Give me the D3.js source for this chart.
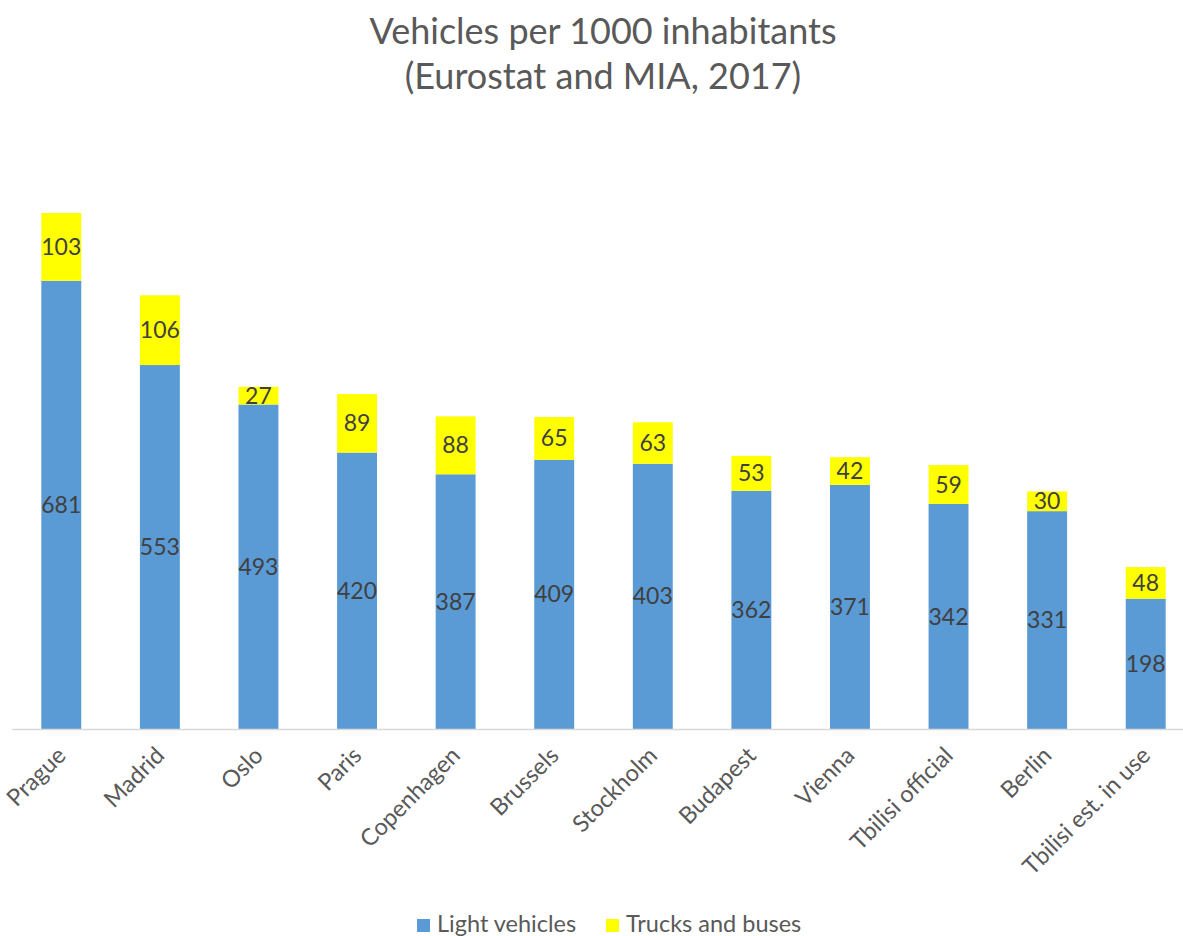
<!DOCTYPE html>
<html>
<head>
<meta charset="utf-8">
<script src="https://cdn.jsdelivr.net/npm/d3@7"></script>
<style>
  html, body { margin: 0; padding: 0; background: #fff; }
  svg { display: block; font-family: Lato, "Open Sans", sans-serif; }
</style>
</head>
<body>
<svg id="chart" width="1183" height="936"></svg>
<script>
// Vehicles per 1000 inhabitants, split into light vehicles and trucks/buses
const cities = ["Prague", "Madrid", "Oslo", "Paris", "Copenhagen", "Brussels",
  "Stockholm", "Budapest", "Vienna", "Tbilisi official", "Berlin", "Tbilisi est. in use"];
const lightVehicles = [681, 553, 493, 420, 387, 409, 403, 362, 371, 342, 331, 198];
const trucksBuses = [103, 106, 27, 89, 88, 65, 63, 53, 42, 59, 30, 48];
const seriesNames = ["Light vehicles", "Trucks and buses"];
const seriesColors = ["#5b9bd5", "#ffff00"];
const titleLines = ["Vehicles per 1000 inhabitants", "(Eurostat and MIA, 2017)"];

const W = 1183, H = 936;
const svg = d3.select("#chart");

const rows = cities.map((c, i) => ({ city: c, light: lightVehicles[i], trucks: trucksBuses[i] }));
const stack = d3.stack().keys(["light", "trucks"])(rows);

const baseY = 729;
const x = d3.scaleBand().domain(cities).range([12, 1195]).paddingInner(0.595).paddingOuter(0.2975);
const y = d3.scaleLinear().domain([0, 784]).range([baseY, 213]);

// Title
svg.append("g").selectAll("text").data(titleLines).join("text")
  .attr("x", 603).attr("y", (d, i) => 44 + i * 45)
  .attr("text-anchor", "middle")
  .attr("font-size", 36).attr("fill", "#595959")
  .text(d => d);

// Stacked bars
const layers = svg.append("g").selectAll("g").data(stack).join("g")
  .attr("fill", (d, i) => seriesColors[i]);
layers.selectAll("rect").data(d => d).join("rect")
  .attr("x", d => x(d.data.city))
  .attr("width", x.bandwidth())
  .attr("y", d => y(d[1]))
  .attr("height", d => y(d[0]) - y(d[1]));

// Segment value labels
const labels = svg.append("g").attr("font-size", 23).attr("fill", "#404040").attr("text-anchor", "middle");
stack.forEach(layer => {
  labels.selectAll(null).data(layer).join("text")
    .attr("x", d => x(d.data.city) + x.bandwidth() / 2)
    .attr("y", d => (y(d[0]) + y(d[1])) / 2)
    .attr("dy", "0.35em")
    .text(d => d[1] - d[0]);
});

// Category axis
const axis = svg.append("g").attr("transform", `translate(0,${baseY})`)
  .call(d3.axisBottom(x).tickSize(0).tickPadding(0));
axis.select(".domain").remove();
svg.append("line").attr("x1", 12).attr("x2", W).attr("y1", baseY + 0.5).attr("y2", baseY + 0.5)
  .attr("stroke", "#d9d9d9").attr("stroke-width", 1.5);
axis.selectAll(".tick text")
  .attr("font-family", "Lato, 'Open Sans', sans-serif")
  .attr("font-size", 23.5).attr("fill", "#595959")
  .attr("text-anchor", "end")
  .attr("dy", 0).attr("y", 0)
  .attr("transform", "translate(6,28) rotate(-45)");

// Legend
const legend = svg.append("g").attr("font-size", 23.5).attr("fill", "#595959");
const legendX = [417, 606];
seriesNames.forEach((name, i) => {
  legend.append("rect").attr("x", legendX[i]).attr("y", 919).attr("width", 13).attr("height", 13)
    .attr("fill", seriesColors[i]);
  legend.append("text").attr("x", legendX[i] + 20).attr("y", 932).text(name);
});
</script>
</body>
</html>
